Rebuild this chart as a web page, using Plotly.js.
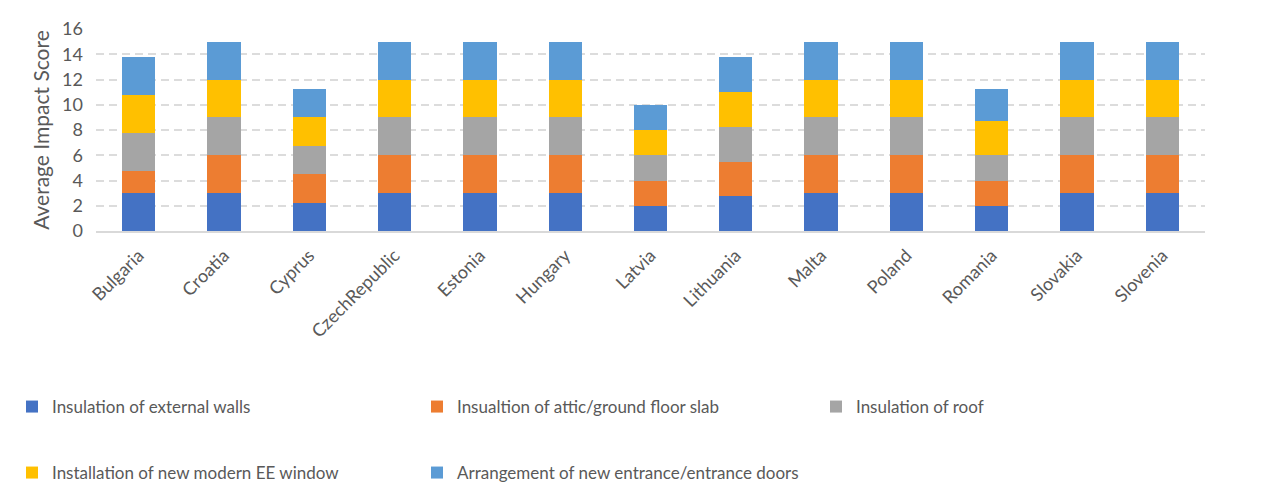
<!DOCTYPE html>
<html>
<head>
<meta charset="utf-8">
<script src="https://cdn.plot.ly/plotly-3.0.1.min.js"></script>
<style>
  html, body { margin: 0; padding: 0; background: #fff; }
  #chart { width: 1272px; height: 501px; }
</style>
</head>
<body>
<div id="chart"></div>
<script>
// Countries on the x axis
const countries = ["Bulgaria", "Croatia", "Cyprus", "CzechRepublic", "Estonia", "Hungary",
  "Latvia", "Lithuania", "Malta", "Poland", "Romania", "Slovakia", "Slovenia"];

// Average impact score of each retrofit measure, per country
const externalWalls = [3, 3, 2.25, 3, 3, 3, 2, 2.75, 3, 3, 2, 3, 3];
const atticFloorSlab = [1.75, 3, 2.3, 3, 3, 3, 2, 2.75, 3, 3, 2, 3, 3];
const roof = [3, 3, 2.15, 3, 3, 3, 2, 2.75, 3, 3, 2, 3, 3];
const eeWindow = [3, 3, 2.3, 3, 3, 3, 2, 2.75, 3, 3, 2.75, 3, 3];
const entranceDoors = [3, 3, 2.25, 3, 3, 3, 2, 2.75, 3, 3, 2.5, 3, 3];

const seriesNames = [
  "Insulation of external walls",
  "Insualtion of attic/ground floor slab",
  "Insulation of roof",
  "Installation of new modern EE window",
  "Arrangement of new entrance/entrance doors"
];
const seriesValues = [externalWalls, atticFloorSlab, roof, eeWindow, entranceDoors];
const seriesColors = ["#4472C4", "#ED7D31", "#A5A5A5", "#FFC000", "#5B9BD5"];

const font = "Lato, 'Open Sans', sans-serif";
const textGray = "#595959";

// Legend grid: three entries in the first row, two in the second
const legendIds = ["legend", "legend2", "legend3", "legend4", "legend5"];
const legendCol = [0, 1, 2, 0, 1];
const legendRow = [0, 0, 0, 1, 1];

const traces = seriesNames.map((name, i) => ({
  type: "bar",
  name: name,
  x: countries,
  y: seriesValues[i],
  marker: { color: seriesColors[i] },
  legend: legendIds[i],
  hoverinfo: "x+y+name"
}));

const layout = {
  width: 1272,
  height: 501,
  margin: { l: 96, r: 67, t: 29, b: 269 },
  paper_bgcolor: "#ffffff",
  plot_bgcolor: "#ffffff",
  barmode: "stack",
  bargap: 0.61,
  font: { family: font, color: textGray },
  xaxis: {
    type: "category",
    tickangle: -45,
    tickfont: { family: font, size: 18, color: textGray },
    ticklabelstandoff: 5,
    showgrid: false,
    showline: true,
    linecolor: "#d9d9d9",
    linewidth: 2,
    ticks: "",
    zeroline: false
  },
  yaxis: {
    range: [0, 16],
    dtick: 2,
    tickfont: { family: font, size: 18, color: textGray },
    showgrid: true,
    gridcolor: "#dcdcdc",
    gridwidth: 2,
    griddash: "8px,5px",
    zeroline: false,
    showline: false,
    ticks: "",
    ticklabelstandoff: 12,
    title: { text: "Average Impact Score", font: { family: font, size: 21, color: textGray }, standoff: 6 }
  },
  showlegend: true
};

// Column and row positions of the legend entries, in pixels
const colPx = [12, 417, 816];
const rowPx = [407, 473];
const plotLeft = 96, plotWidth = 1272 - 96 - 67, plotBottom = 501 - 269, plotHeight = 501 - 29 - 269;

legendIds.forEach((id, i) => {
  layout[id] = {
    orientation: "h",
    xanchor: "left",
    yanchor: "middle",
    x: (colPx[legendCol[i]] - plotLeft) / plotWidth,
    y: (plotBottom - rowPx[legendRow[i]]) / plotHeight,
    font: { family: font, size: 17, color: textGray },
    itemwidth: 30,
    bgcolor: "rgba(0,0,0,0)"
  };
});

Plotly.newPlot("chart", traces, layout, { displayModeBar: false, staticPlot: true });
</script>
</body>
</html>
